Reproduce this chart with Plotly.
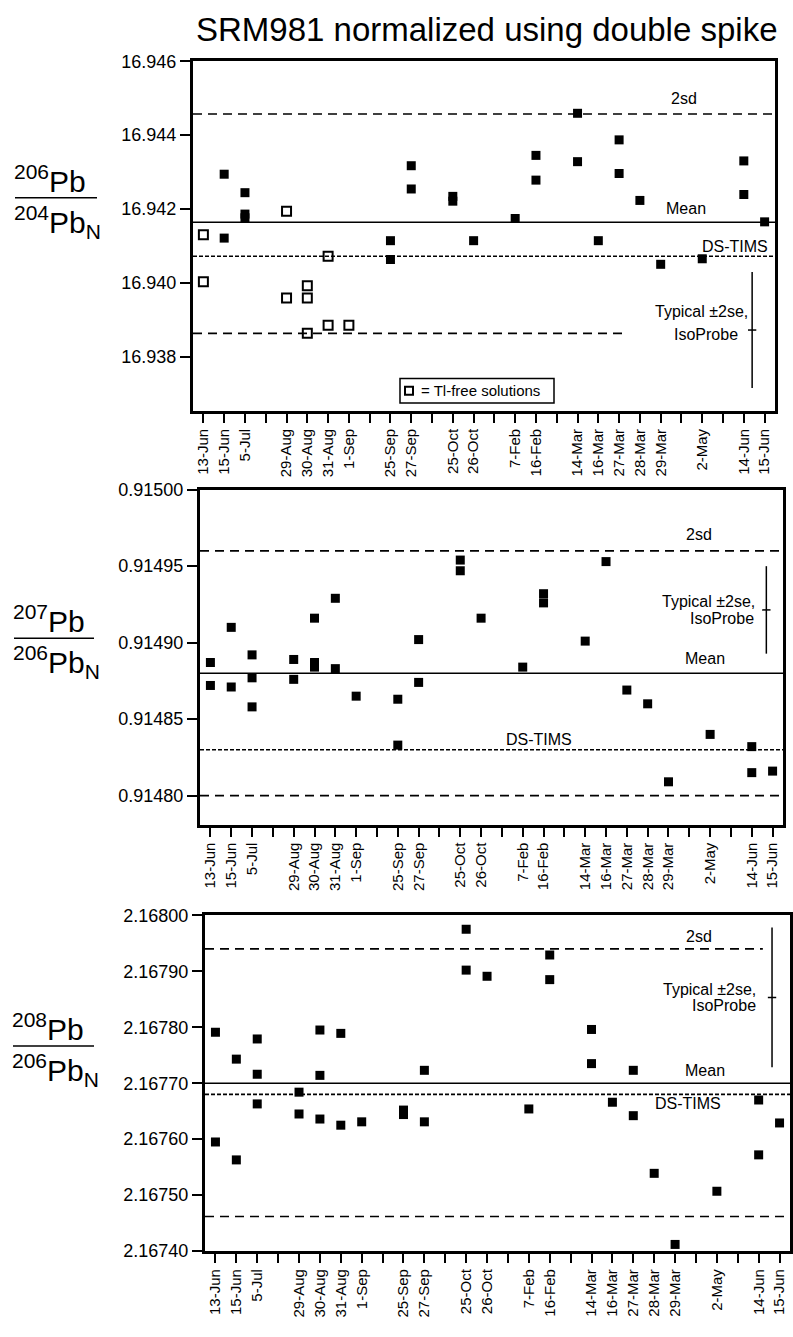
import plotly.graph_objects as go

W, H = 793, 1337
FONT = "Liberation Sans, Arial, Helvetica, sans-serif"

# ---------------- data ----------------
slot_keys = ['Y1 13-Jun', 'Y1 15-Jun', 'Y1 5-Jul', 'gap1', 'Y1 29-Aug', 'Y1 30-Aug', 'Y1 31-Aug',
             'Y1 1-Sep', 'gap2', 'Y1 25-Sep', 'Y1 27-Sep', 'gap3', 'Y1 25-Oct', 'Y1 26-Oct', 'gap4',
             'Y2 7-Feb', 'Y2 16-Feb', 'gap5', 'Y2 14-Mar', 'Y2 16-Mar', 'Y2 27-Mar', 'Y2 28-Mar',
             'Y2 29-Mar', 'gap6', 'Y2 2-May', 'gap7', 'Y2 14-Jun', 'Y2 15-Jun']
label_slots = [i for i, k in enumerate(slot_keys) if k.startswith('Y')]
gap_slots = [i for i, k in enumerate(slot_keys) if not k.startswith('Y')]
tick_labels = [slot_keys[i].split(' ')[1] for i in label_slots]

# 206Pb/204Pb
pb64_dates = ['Y1 15-Jun', 'Y1 15-Jun', 'Y1 5-Jul', 'Y1 5-Jul', 'Y1 5-Jul', 'Y1 25-Sep', 'Y1 25-Sep',
              'Y1 27-Sep', 'Y1 27-Sep', 'Y1 25-Oct', 'Y1 25-Oct', 'Y1 26-Oct', 'Y2 7-Feb',
              'Y2 16-Feb', 'Y2 16-Feb', 'Y2 14-Mar', 'Y2 14-Mar', 'Y2 16-Mar', 'Y2 27-Mar', 'Y2 27-Mar',
              'Y2 28-Mar', 'Y2 29-Mar', 'Y2 2-May', 'Y2 14-Jun', 'Y2 14-Jun', 'Y2 15-Jun']
pb64_vals = [16.94294, 16.94121, 16.94244, 16.94186, 16.94176, 16.94114, 16.94063,
             16.94317, 16.94254, 16.94234, 16.94221, 16.94114, 16.94174,
             16.94345, 16.94278, 16.94459, 16.94328, 16.94114, 16.94387, 16.94296,
             16.94223, 16.94050, 16.94065, 16.94330, 16.94239, 16.94165]
pb64_tlfree_dates = ['Y1 13-Jun', 'Y1 13-Jun', 'Y1 29-Aug', 'Y1 29-Aug', 'Y1 30-Aug', 'Y1 30-Aug',
                     'Y1 30-Aug', 'Y1 31-Aug', 'Y1 31-Aug', 'Y1 1-Sep']
pb64_tlfree_vals = [16.94130, 16.94003, 16.94194, 16.93959, 16.93992, 16.93959,
                    16.93863, 16.94072, 16.93885, 16.93885]
pb64_mean, pb64_2sd_hi, pb64_2sd_lo, pb64_dstims = 16.94164, 16.94457, 16.93863, 16.94072
pb64_se_center, pb64_se_half = 16.93872, 0.00157

# 207Pb/206Pb
pb76_dates = ['Y1 13-Jun', 'Y1 13-Jun', 'Y1 15-Jun', 'Y1 15-Jun', 'Y1 5-Jul', 'Y1 5-Jul', 'Y1 5-Jul',
              'Y1 29-Aug', 'Y1 29-Aug', 'Y1 30-Aug', 'Y1 30-Aug', 'Y1 30-Aug', 'Y1 31-Aug', 'Y1 31-Aug',
              'Y1 1-Sep', 'Y1 25-Sep', 'Y1 25-Sep', 'Y1 27-Sep', 'Y1 27-Sep', 'Y1 25-Oct', 'Y1 25-Oct',
              'Y1 26-Oct', 'Y2 7-Feb', 'Y2 16-Feb', 'Y2 16-Feb', 'Y2 14-Mar', 'Y2 16-Mar', 'Y2 27-Mar',
              'Y2 28-Mar', 'Y2 29-Mar', 'Y2 2-May', 'Y2 14-Jun', 'Y2 14-Jun', 'Y2 15-Jun']
pb76_vals = [0.914887, 0.914872, 0.914910, 0.914871, 0.914892, 0.914877, 0.914858,
             0.914889, 0.914876, 0.914916, 0.914887, 0.914884, 0.914929, 0.914883,
             0.914865, 0.914863, 0.914833, 0.914902, 0.914874, 0.914954, 0.914947,
             0.914916, 0.914884, 0.914932, 0.914926, 0.914901, 0.914953, 0.914869,
             0.914860, 0.914809, 0.914840, 0.914832, 0.914815, 0.914816]
pb76_mean, pb76_2sd_hi, pb76_2sd_lo, pb76_dstims = 0.914880, 0.914960, 0.914800, 0.914830
pb76_se_center, pb76_se_half = 0.9149214, 0.0000286

# 208Pb/206Pb
pb86_dates = ['Y1 13-Jun', 'Y1 13-Jun', 'Y1 15-Jun', 'Y1 15-Jun', 'Y1 5-Jul', 'Y1 5-Jul', 'Y1 5-Jul',
              'Y1 29-Aug', 'Y1 29-Aug', 'Y1 30-Aug', 'Y1 30-Aug', 'Y1 30-Aug', 'Y1 31-Aug', 'Y1 31-Aug',
              'Y1 1-Sep', 'Y1 25-Sep', 'Y1 25-Sep', 'Y1 27-Sep', 'Y1 27-Sep', 'Y1 25-Oct', 'Y1 25-Oct',
              'Y1 26-Oct', 'Y2 7-Feb', 'Y2 16-Feb', 'Y2 16-Feb', 'Y2 14-Mar', 'Y2 14-Mar', 'Y2 16-Mar',
              'Y2 27-Mar', 'Y2 27-Mar', 'Y2 28-Mar', 'Y2 29-Mar', 'Y2 2-May', 'Y2 14-Jun', 'Y2 14-Jun',
              'Y2 15-Jun']
pb86_vals = [2.167791, 2.167595, 2.167743, 2.167563, 2.167779, 2.167716, 2.167663,
             2.167684, 2.167645, 2.167795, 2.167714, 2.167636, 2.167789, 2.167625,
             2.167631, 2.167652, 2.167644, 2.167723, 2.167631, 2.167975, 2.167902,
             2.167891, 2.167654, 2.167929, 2.167885, 2.167796, 2.167735, 2.167666,
             2.167723, 2.167642, 2.167539, 2.167412, 2.167507, 2.167670, 2.167572,
             2.167629]
pb86_mean, pb86_2sd_hi, pb86_2sd_lo, pb86_dstims = 2.167700, 2.167940, 2.167462, 2.167680
pb86_se_center, pb86_se_half = 2.1678533, 0.0001246

y_ticks_64 = [16.938, 16.940, 16.942, 16.944, 16.946]
y_ticks_76 = [0.91480, 0.91485, 0.91490, 0.91495, 0.91500]
y_ticks_86 = [2.16740, 2.16750, 2.16760, 2.16770, 2.16780, 2.16790, 2.16800]


# ---------------- helpers ----------------
def px(x):
    return x / W


def py(y):
    return 1 - y / H


def slots(dates):
    return [slot_keys.index(d) for d in dates]


# panel frames in pixels: (left, right, top, bottom)
frames = [(193, 775, 52, 407), (200, 783, 487, 827), (205, 790, 919, 1260)]
yranges = [[16.93653, 16.946], [0.914781, 0.915000], [2.167400, 2.168000]]
yticks = [(y_ticks_64, '%.3f'), (y_ticks_76, '%.5f'), (y_ticks_86, '%.5f')]

fig = go.Figure()

MS = 9
fig.add_trace(go.Scatter(x=slots(pb64_dates), y=pb64_vals, mode='markers', xaxis='x', yaxis='y',
                         marker=dict(symbol='square', size=MS, color='black'), showlegend=False,
                         cliponaxis=False))
fig.add_trace(go.Scatter(x=slots(pb64_tlfree_dates), y=pb64_tlfree_vals, mode='markers',
                         xaxis='x', yaxis='y', showlegend=False, cliponaxis=False,
                         marker=dict(symbol='square-open', size=MS, color='black',
                                     line=dict(width=2, color='black'))))
fig.add_trace(go.Scatter(x=slots(pb76_dates), y=pb76_vals, mode='markers', xaxis='x2', yaxis='y2',
                         marker=dict(symbol='square', size=MS, color='black'), showlegend=False,
                         cliponaxis=False))
fig.add_trace(go.Scatter(x=slots(pb86_dates), y=pb86_vals, mode='markers', xaxis='x3', yaxis='y3',
                         marker=dict(symbol='square', size=MS, color='black'), showlegend=False,
                         cliponaxis=False))

layout = dict(width=W, height=H, margin=dict(l=0, r=0, t=0, b=0),
              paper_bgcolor='white', plot_bgcolor='white', showlegend=False,
              font=dict(family=FONT, color='black'))

for i, ((l, r, t, b), yr, (tv, fmt)) in enumerate(zip(frames, yranges, yticks)):
    sx = '' if i == 0 else str(i + 1)
    layout['xaxis' + sx] = dict(domain=[px(l), px(r)], range=[-0.5, 27.5], anchor='y' + sx,
                                tickmode='array', tickvals=label_slots,
                                ticktext=tick_labels, tickangle=-90, ticks='outside', ticklen=9,
                                tickwidth=1.5, tickcolor='black', showline=True, mirror=True,
                                linewidth=3, linecolor='black', showgrid=False, zeroline=False,
                                minor=dict(tickmode='array', tickvals=gap_slots, ticks='outside',
                                           ticklen=9, tickwidth=1.5, tickcolor='black',
                                           showgrid=False),
                                tickfont=dict(size=15, family=FONT, color='black'))
    layout['yaxis' + sx] = dict(domain=[py(b), py(t)], range=yr, anchor='x' + sx,
                                tickmode='array', tickvals=tv, ticktext=[fmt % v for v in tv],
                                ticks='outside', ticklen=10, tickwidth=1.5, tickcolor='black',
                                showline=True, mirror=True, linewidth=3, linecolor='black',
                                showgrid=False, zeroline=False,
                                tickfont=dict(size=18, family=FONT, color='black'))

shapes = []
LONG = '9px,6px'
SHORT = '4px,2px'


def hline(ax, yv, x0=-0.5, x1=27.5, dash='solid', width=1.6):
    shapes.append(dict(type='line', xref='x' + ax, yref='y' + ax, x0=x0, x1=x1, y0=yv, y1=yv,
                       line=dict(color='black', width=width, dash=dash)))


# top panel lines
hline('', pb64_2sd_hi, dash=LONG)
hline('', pb64_2sd_lo, x1=20.35, dash=LONG)
hline('', pb64_mean)
hline('', pb64_dstims, dash=SHORT)
# middle
hline('2', pb76_2sd_hi, dash=LONG)
hline('2', pb76_2sd_lo, dash=LONG)
hline('2', pb76_mean)
hline('2', pb76_dstims, dash=SHORT)
# bottom
hline('3', pb86_2sd_hi, x1=26.2, dash=LONG)
hline('3', pb86_2sd_lo, dash=LONG)
hline('3', pb86_mean)
hline('3', pb86_dstims, dash=SHORT)

# typical 2se bars
for ax, xs, c, h in [('', 26.4, pb64_se_center, pb64_se_half),
                     ('2', 26.7, pb76_se_center, pb76_se_half),
                     ('3', 26.64, pb86_se_center, pb86_se_half)]:
    shapes.append(dict(type='line', xref='x' + ax, yref='y' + ax, x0=xs, x1=xs, y0=c - h, y1=c + h,
                       line=dict(color='black', width=1.5)))
    shapes.append(dict(type='line', xref='x' + ax, yref='y' + ax, x0=xs - 0.2, x1=xs + 0.2,
                       y0=c, y1=c, line=dict(color='black', width=1.5)))

# legend box
shapes.append(dict(type='rect', xref='paper', yref='paper', x0=px(400), x1=px(554), y0=py(399),
                   y1=py(374), line=dict(color='black', width=1.5), fillcolor='white'))
shapes.append(dict(type='rect', xref='paper', yref='paper', x0=px(405), x1=px(413), y0=py(390.5),
                   y1=py(382.5), line=dict(color='black', width=2)))

# fraction bars
frac = [('206', '204', 15, 97, 190.5), ('207', '206', 14, 94, 637.7), ('208', '206', 13, 94, 1051.7)]
for (_, _, x0, x1, yy) in frac:
    shapes.append(dict(type='line', xref='paper', yref='paper', x0=px(x0), x1=px(x1), y0=py(yy),
                       y1=py(yy), line=dict(color='black', width=1.5)))

layout['shapes'] = shapes

ann = []


def text(x, y, s, size=16, xanchor='center', yanchor='middle'):
    ann.append(dict(x=px(x), y=py(y), xref='paper', yref='paper', text=s, showarrow=False,
                    xanchor=xanchor, yanchor=yanchor, font=dict(size=size, family=FONT, color='black')))


text(487, 20, 'SRM981 normalized using double spike', size=33)

# top
text(684, 90, '2sd')
text(686, 202, 'Mean')
text(735, 240, 'DS-TIMS')
text(750, 306, 'Typical ±2se,', xanchor='right')
text(740, 329, 'IsoProbe', xanchor='right')
text(419, 386.5, '= Tl-free solutions', size=15, xanchor='left')
# middle
text(699, 532, '2sd')
text(705, 658, 'Mean')
text(539, 741, 'DS-TIMS')
text(757, 600, 'Typical ±2se,', xanchor='right')
text(756, 618, 'IsoProbe', xanchor='right')
# bottom
text(699, 941, '2sd')
text(705, 1077, 'Mean')
text(688, 1110, 'DS-TIMS')
text(758, 994, 'Typical ±2se,', xanchor='right')
text(758, 1011, 'IsoProbe', xanchor='right')

# fraction labels
for num, den, x0, x1, yy in frac:
    ann.append(dict(x=px(x0 - 2), y=py(yy + 1), xref='paper', yref='paper', showarrow=False,
                    text='<sup>%s</sup>Pb' % num, xanchor='left', yanchor='bottom', borderpad=0,
                    font=dict(size=30, family=FONT, color='black')))
    ann.append(dict(x=px(x0 - 2), y=py(yy + 2), xref='paper', yref='paper', showarrow=False,
                    text='<sup>%s</sup>Pb<sub>N</sub>' % den, xanchor='left', yanchor='top',
                    borderpad=0, font=dict(size=30, family=FONT, color='black')))

layout['annotations'] = ann
fig.update_layout(**layout)
fig.write_html('out.html')
